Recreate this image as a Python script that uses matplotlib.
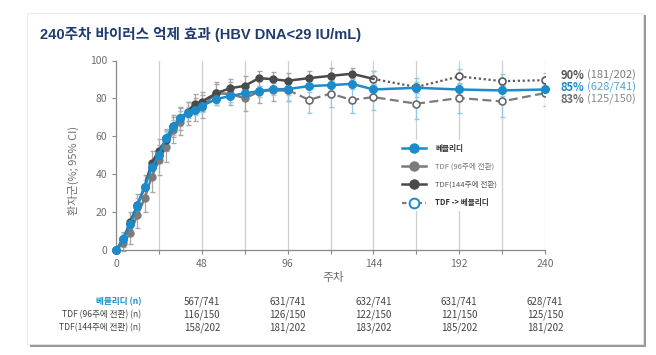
import matplotlib
matplotlib.use("Agg")
import matplotlib.pyplot as plt
from matplotlib.lines import Line2D
from matplotlib.patches import Rectangle

plt.rcParams['font.family'] = ['Noto Sans CJK KR', 'DejaVu Sans']

# data
weeks = [0, 4, 8, 12, 16, 20, 24, 28, 32, 36, 40, 44, 48, 56, 64, 72, 80, 88, 96,
         108, 120, 132, 144, 168, 192, 216, 240]
vemlidy = [0, 5.6, 13.6, 23.4, 33, 43.7, 50, 59.3, 64.8, 69.5, 72.4, 74, 76, 79.6,
           81.3, 82.7, 83.8, 84.9, 84.9, 86.5, 87, 87.7, 84.7, 85.6, 84.7, 84.2, 84.7]
vemlidy_err = [0, 3, 3, 4, 4, 4, 4, 4, 4, 4, 3, 3, 3, 3, 3, 3, 3, 3, 3,
               3, 3, 3, 3, 3, 3, 3, 3]

tdf96_weeks = weeks[:19]
tdf96 = [0, 3.5, 9.2, 18.5, 27.3, 38.7, 47.5, 54.6, 63.4, 67.8, 72.2, 74, 75.7,
         82.7, 82.4, 80.1, 83.6, 84.5, 84.5]
tdf96_err = [0, 4, 6, 7, 7, 8, 8, 8, 7, 7, 6, 6, 6, 6, 6, 7, 6, 6, 6]

tdf144_weeks = weeks[:23]
tdf144 = [0, 5.6, 15, 23.8, 33.5, 46, 52.5, 58, 65.5, 69.5, 73, 77.1, 78.3, 82.7,
          85.4, 86.6, 90.7, 90.1, 89.3, 90.7, 91.9, 93, 90.3]
tdf144_err = [0, 4, 5, 6, 6, 6, 6, 6, 6, 6, 5, 5, 5, 5, 5, 5, 4, 4, 4, 4, 4, 3, 4]

sw96_weeks = [96, 108, 120, 132, 144, 168, 192, 216, 240]
sw96 = [84.5, 79.2, 82.5, 79.2, 80.7, 77.2, 80.2, 78.4, 82.8]
sw96_err = [6, 7, 7, 7, 7, 8, 8, 8, 7]

sw144_weeks = [144, 168, 192, 216, 240]
sw144 = [90.3, 86, 91.6, 89.1, 89.6]
sw144_err = [4, 5, 4, 4, 4]

table_weeks = [48, 96, 144, 192, 240]
n_vemlidy = ['567/741', '631/741', '632/741', '631/741', '628/741']
n_tdf96 = ['116/150', '126/150', '122/150', '121/150', '125/150']
n_tdf144 = ['158/202', '181/202', '183/202', '185/202', '181/202']

BLUE = '#1b8bcb'
LBLUE = '#94c8e8'
DARK = '#4a4a4a'
MID = '#7b7b7b'
EGRAY = '#a8a8a8'

W, H = 656, 355
fig = plt.figure(figsize=(W / 100, H / 100), dpi=100)

# card with shadow
fig.patches.append(Rectangle((30 / W, 1 - 347 / H), 616 / W, 332 / H,
                             transform=fig.transFigure, facecolor='#9a9a9a',
                             edgecolor='none', zorder=-2))
fig.patches.append(Rectangle((27 / W, 1 - 344 / H), 616 / W, 331 / H,
                             transform=fig.transFigure, facecolor='white',
                             edgecolor='#e6e6e6', lw=0.6, zorder=-1))

ax = fig.add_axes([116 / W, 1 - 250 / H, 429 / W, 189.5 / H])
ax.set_facecolor('none')
ax.set_zorder(1)
ax.set_xlim(0, 240)
ax.set_ylim(0, 100)

for wk in range(24, 241, 24):
    ax.axvline(wk, color='#cfcfcf', lw=0.9, zorder=0)

# error bars
ax.errorbar(tdf96_weeks, tdf96, yerr=tdf96_err, fmt='none', ecolor=EGRAY,
            elinewidth=0.9, capsize=1.8, zorder=2, clip_on=False)
ax.errorbar(tdf144_weeks, tdf144, yerr=tdf144_err, fmt='none', ecolor=EGRAY,
            elinewidth=0.9, capsize=1.8, zorder=2, clip_on=False)
ax.errorbar(sw96_weeks, sw96, yerr=sw96_err, fmt='none', ecolor=LBLUE,
            elinewidth=0.9, capsize=1.8, zorder=2)
ax.errorbar(sw144_weeks, sw144, yerr=sw144_err, fmt='none', ecolor=LBLUE,
            elinewidth=0.9, capsize=1.8, zorder=2)
ax.errorbar(weeks, vemlidy, yerr=vemlidy_err, fmt='none', ecolor=LBLUE,
            elinewidth=0.9, capsize=1.8, zorder=2)

# switch lines
ax.plot(sw96_weeks, sw96, color=MID, lw=1.6, ls=(0, (4, 2)), marker='o', ms=5,
        mfc='white', mec='#6a6a6a', mew=1.2, zorder=3)
ax.plot(sw144_weeks, sw144, color='#5a5a5a', lw=1.6, ls=(0, (1, 1.2)), marker='o',
        ms=5, mfc='white', mec='#5a5a5a', mew=1.2, zorder=3)

# main lines
ax.plot(tdf96_weeks[:-1], tdf96[:-1], color=MID, lw=1.8, marker='o', ms=5,
        zorder=4, clip_on=False)
ax.plot(tdf96_weeks[-2:], tdf96[-2:], color=MID, lw=1.8, zorder=4)
ax.plot(tdf144_weeks[:-1], tdf144[:-1], color=DARK, lw=1.8, marker='o', ms=5,
        zorder=5, clip_on=False)
ax.plot(tdf144_weeks[-2:], tdf144[-2:], color=DARK, lw=1.8, zorder=5)
ax.plot(weeks, vemlidy, color=BLUE, lw=1.8, marker='o', ms=5.5, zorder=6,
        clip_on=False)

for s in ['top', 'right']:
    ax.spines[s].set_visible(False)
for s in ['left', 'bottom']:
    ax.spines[s].set_color('#8a8a8a')
    ax.spines[s].set_linewidth(0.9)
ax.set_xticks(range(0, 241, 24))
ax.set_xticklabels([str(w) if w % 48 == 0 else '' for w in range(0, 241, 24)])
ax.set_yticks(range(0, 101, 20))
ax.tick_params(colors='#8a8a8a', labelcolor='#6e6e6e', labelsize=7.5,
               length=3, width=0.8)

# right-hand end labels
ends = [(92.1, '90%', '(181/202)', '#555555', '#7a7a7a'),
        (85.6, '85%', '(628/741)', BLUE, '#4fa6d8'),
        (79.5, '83%', '(125/150)', '#6e6e6e', '#8a8a8a')]
for y, pct, frac, c1, c2 in ends:
    ax.text(248.5, y, pct, color=c1, fontsize=8, fontweight='bold',
            va='center', ha='left', clip_on=False)
    ax.text(263.5, y, frac, color=c2, fontsize=8, va='center', ha='left',
            clip_on=False)

# legend
handles = [
    Line2D([], [], color=BLUE, lw=1.8, marker='o', ms=6.5),
    Line2D([], [], color=MID, lw=1.8, marker='o', ms=6.5),
    Line2D([], [], color=DARK, lw=1.8, marker='o', ms=6.5),
    Line2D([], [], color=MID, lw=1.6, ls=(0, (2, 1.5)), marker='o', ms=7,
           mfc='white', mec=BLUE, mew=1.4),
]
labels = ['베믈리디', 'TDF (96주에 전환)', 'TDF(144주에 전환)', 'TDF -> 베믈리디']
leg = ax.legend(handles, labels, loc='upper left',
                bbox_to_anchor=(394 / W, 1 - 136 / H),
                bbox_transform=fig.transFigure, fontsize=5.5, frameon=True,
                facecolor='white', edgecolor='none', framealpha=1,
                handlelength=3.2, handletextpad=1.2, labelspacing=1.3,
                borderpad=0.5)
leg.set_zorder(7)
leg_colors = ['#333333', '#777777', '#555555', '#333333']
leg_weights = ['bold', 'normal', 'normal', 'bold']
for t, c, wgt in zip(leg.get_texts(), leg_colors, leg_weights):
    t.set_color(c)
    t.set_fontweight(wgt)

# axis labels
fig.text(73 / W, 1 - 170 / H, '환자군(%; 95% CI)', rotation=90, color='#6e6e6e',
         fontsize=8, ha='center', va='center')
fig.text(333 / W, 1 - 277 / H, '주차', color='#6e6e6e', fontsize=8.5,
         ha='center', va='center')

# title
fig.text(40 / W, 1 - 34 / H, '240주차 바이러스 억제 효과 (HBV DNA<29 IU/mL)',
         color='#1f3b70', fontsize=10.5, fontweight='bold', ha='left',
         va='center', family=['Liberation Sans', 'Noto Sans CJK KR'])

# n table
rows = [(n_vemlidy, '베믈리디 (n)', BLUE, 'bold', 301.7),
        (n_tdf96, 'TDF (96주에 전환) (n)', '#444444', 'normal', 314.5),
        (n_tdf144, 'TDF(144주에 전환) (n)', '#444444', 'normal', 327.7)]
for vals, lab, col, wgt, ypx in rows:
    fig.text(141 / W, 1 - ypx / H, lab, color=col, fontsize=6.2, fontweight=wgt,
             ha='right', va='center')
    for wk, v in zip(table_weeks, vals):
        xf = ax.transData.transform((wk, 0))[0] / fig.bbox.width
        fig.text(xf, 1 - ypx / H, v, color='#444444', fontsize=7, ha='center',
                 va='center')

fig.savefig('out.png', dpi=100)
